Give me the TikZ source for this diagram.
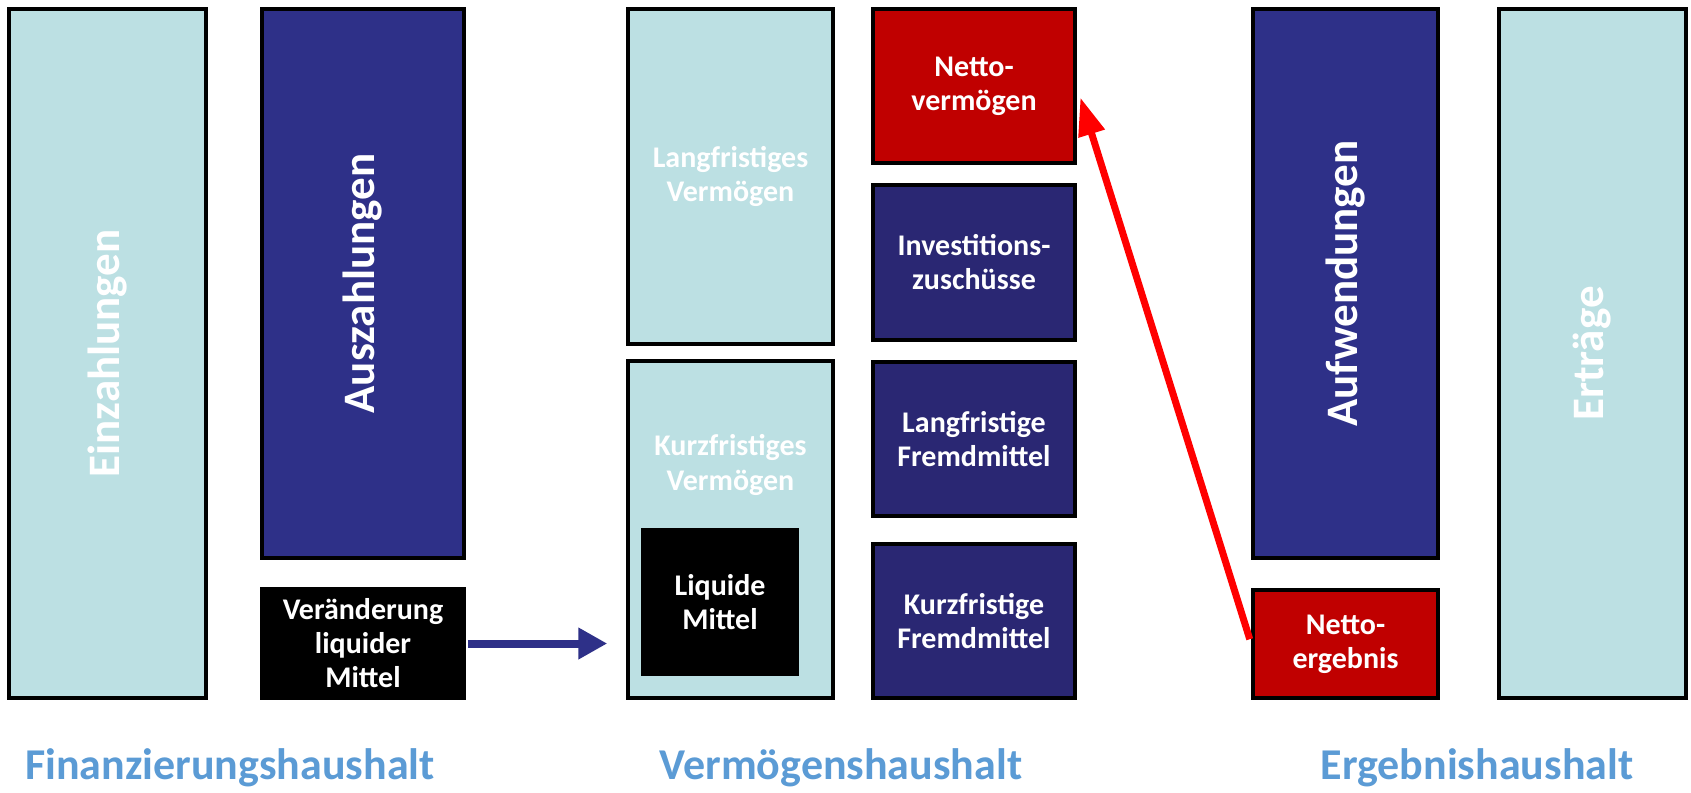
\documentclass[tikz,border=0pt]{standalone}
\usepackage{fontspec}
\setmainfont{Carlito}
\usetikzlibrary{arrows.meta}
\definecolor{lightbox}{HTML}{BCE0E3}
\definecolor{darkblue}{HTML}{2E3088}
\definecolor{darkblueb}{HTML}{2A2773}
\definecolor{netred}{HTML}{C00000}
\definecolor{labelblue}{HTML}{5B9BD5}
\definecolor{arrowblue}{HTML}{2E3088}
\tikzset{
  box/.style={draw=black, line width=3.5pt, inner sep=0pt, text=white, align=center,
    font=\bfseries\fontsize{30}{34}\selectfont},
  vtext/.style={rotate=90, text=white, font=\bfseries\fontsize{45}{52}\selectfont},
  boxtext/.style={text=white, align=center, font=\bfseries\fontsize{30}{35}\selectfont},
  grouplabel/.style={anchor=base, text=labelblue, font=\bfseries\fontsize{44}{50}\selectfont},
}
\begin{document}
\begin{tikzpicture}[x=1pt,y=-1pt]
\useasboundingbox[fill=white] (0,0) rectangle (1691,792);
% Finanzierungshaushalt
\node[box, fill=lightbox, minimum width=197pt, minimum height=689pt] (ein) at (107.5,353.5) {};
\node[vtext] (eintext) at (ein.center) {Einzahlungen};
\node[box, fill=darkblue, minimum width=202pt, minimum height=549pt] (aus) at (363,283.5) {};
\node[vtext] (austext) at (aus.center) {Auszahlungen};
\node[box, fill=black, draw=none, minimum width=206pt, minimum height=113pt] (ver) at (363,643.5) {Veränderung\\liquider\\Mittel};
% Vermögenshaushalt
\node[box, fill=lightbox, minimum width=205pt, minimum height=335pt] (lv) at (730.5,176.5) {Langfristiges\\Vermögen};
\node[box, fill=lightbox, minimum width=205pt, minimum height=337pt] (kv) at (730.5,529.5) {};
\node[boxtext] (kvtext) at (730.5,465) {Kurzfristiges\\Vermögen};
\node[box, fill=black, draw=none, minimum width=158pt, minimum height=148pt] (lm) at (720,602) {Liquide\\Mittel};
\node[box, fill=netred, minimum width=202pt, minimum height=154pt] (nv) at (974,86) {Netto-\\vermögen};
\node[box, fill=darkblueb, minimum width=202pt, minimum height=155pt] (iz) at (974,262.5) {Investitions-\\zuschüsse};
\node[box, fill=darkblueb, minimum width=202pt, minimum height=154pt] (lf) at (974,439) {Langfristige\\Fremdmittel};
\node[box, fill=darkblueb, minimum width=202pt, minimum height=154pt] (kf) at (974,621) {Kurzfristige\\Fremdmittel};
% Ergebnishaushalt
\node[box, fill=darkblue, minimum width=185pt, minimum height=549pt] (auf) at (1345.5,283.5) {};
\node[vtext] (auftext) at (auf.center) {Aufwendungen};
\node[box, fill=netred, minimum width=185pt, minimum height=108pt] (ne) at (1345.5,644) {Netto-\\ergebnis};
\node[box, fill=lightbox, minimum width=187pt, minimum height=689pt] (ert) at (1592.5,353.5) {};
\node[vtext] (erttext) at (ert.center) {Erträge};
% connectors
\draw[arrowblue, line width=8pt, shorten >=19pt, -{Triangle[length=29pt,width=30pt]}] (ver.east) -- (ver.east -| kv.west);
\draw[red, line width=7pt, shorten <=5pt, shorten >=12pt, -{Triangle[length=38pt,width=26pt]}] (ne.west) -- (nv.east);
% labels
\node[grouplabel] (fh) at (230,779) {Finanzierungshaushalt};
\node[grouplabel] (vh) at (841,779) {Vermögenshaushalt};
\node[grouplabel] (eh) at (1477,779) {Ergebnishaushalt};
\end{tikzpicture}
\end{document}
